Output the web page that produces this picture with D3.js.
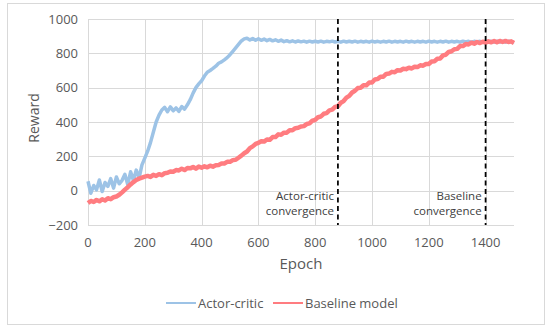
<!DOCTYPE html>
<html>
<head>
<meta charset="utf-8">
<script src="https://cdn.jsdelivr.net/npm/d3@7"></script>
<style>
  body { margin: 0; background: #fff; }
  text { font-family: "Open Sans", "Noto Sans", sans-serif; }
</style>
</head>
<body>
<div id="chart"></div>
<script>
// epochs every 10 steps, 0..1500
const epochs = d3.range(0, 1501, 10);

const actorCritic = [
  55, -15, 30, 5, 62, -5, 48, 25, 70, 15, 80, 40, 60, 95, 35, 110, 60, 120, 75, 150,
  190, 230, 280, 340, 400, 440, 470, 485, 460, 488, 465, 482, 462, 490, 475, 500, 530, 568, 600, 622,
  640, 668, 690, 700, 712, 725, 742, 750, 762, 775, 792, 812, 832, 852, 872, 884, 888, 878, 886, 876,
  885, 876, 883, 874, 881, 873, 879, 870, 877, 868, 874, 867, 873, 866, 872, 867, 871, 865, 871, 866,
  870, 866, 871, 865, 870, 867, 871, 866, 870, 865, 871, 866, 870, 866, 871, 865, 870, 866, 870, 865,
  871, 866, 870, 865, 870, 866, 871, 865, 870, 866, 870, 865, 871, 866, 870, 865, 870, 866, 870, 865,
  871, 866, 870, 865, 870, 866, 871, 865, 870, 866, 870, 865, 871, 866, 870, 865, 870, 866, 870, 865,
  871, 866, 870, 865, 870, 866, 871, 865, 870, 866, 868
];

const baseline = [
  -72, -60, -66, -54, -62, -50, -57, -44, -50, -38, -34, -24, -10, 6, 20, 36, 50, 62, 70, 76,
  82, 86, 80, 92, 86, 96, 90, 102, 104, 112, 110, 120, 118, 128, 120, 132, 130, 138, 128, 140,
  134, 142, 136, 145, 140, 148, 150, 158, 158, 168, 168, 178, 180, 192, 204, 218, 228, 248, 258, 272,
  278, 288, 286, 298, 296, 312, 312, 328, 326, 338, 338, 352, 352, 364, 366, 374, 376, 388, 392, 408,
  412, 428, 432, 448, 452, 468, 472, 488, 492, 512, 522, 542, 552, 572, 582, 598, 600, 614, 614, 630,
  630, 648, 650, 664, 664, 680, 682, 692, 690, 702, 700, 710, 708, 716, 712, 722, 720, 730, 728, 738,
  738, 752, 754, 768, 770, 788, 792, 808, 812, 824, 826, 842, 842, 854, 852, 862, 856, 866, 860, 868,
  862, 870, 864, 872, 864, 872, 866, 872, 866, 870, 860
];

const xTicks = [0, 200, 400, 600, 800, 1000, 1200, 1400];
const yTicks = [-200, 0, 200, 400, 600, 800, 1000];
const convergence = [
  { epoch: 880, lines: ["Actor-critic", "convergence"] },
  { epoch: 1400, lines: ["Baseline", "convergence"] }
];
const seriesNames = ["Actor-critic", "Baseline model"];
const colors = ["#9dc3e6", "#ff7c80"];

const width = 550,
      height = 330,
      margin = ({ top: 19, right: 36, bottom: 105, left: 88 });

let svg = d3.select("#chart")
    .append("svg")
    .attr("width", width)
    .attr("height", height);

// outer frame
svg.append("rect")
    .attr("x", 7.5).attr("y", 3.5)
    .attr("width", 537).attr("height", 321)
    .attr("fill", "none")
    .attr("stroke", "#d9d9d9");

let x = d3.scaleLinear()
    .domain([0, 1500])
    .range([margin.left, width - margin.right]);

let y = d3.scaleLinear()
    .domain([-200, 1000])
    .range([height - margin.bottom, margin.top]);

// gridlines
svg.append("g")
    .selectAll("line")
    .data(yTicks)
    .join("line")
    .attr("x1", x(0)).attr("x2", x(1500))
    .attr("y1", d => Math.round(y(d)) + 0.5)
    .attr("y2", d => Math.round(y(d)) + 0.5)
    .attr("stroke", "#d9d9d9");

svg.append("g")
    .selectAll("line")
    .data(xTicks)
    .join("line")
    .attr("x1", d => Math.round(x(d)) + 0.5)
    .attr("x2", d => Math.round(x(d)) + 0.5)
    .attr("y1", y(1000)).attr("y2", y(-200))
    .attr("stroke", "#d9d9d9");

// tick labels
svg.append("g")
    .selectAll("text")
    .data(yTicks)
    .join("text")
    .attr("x", x(0) - 10)
    .attr("y", d => y(d) + 4.5)
    .attr("text-anchor", "end")
    .style("font-size", "13px")
    .style("fill", "#595959")
    .text(d => d < 0 ? "\u2212" + Math.abs(d) : d);

svg.append("g")
    .selectAll("text")
    .data(xTicks)
    .join("text")
    .attr("x", d => x(d))
    .attr("y", y(-200) + 22)
    .attr("text-anchor", "middle")
    .style("font-size", "13px")
    .style("fill", "#595959")
    .text(d => d);

// series
const series = [actorCritic, baseline];
const widths = [3.5, 4.5];
let line = d3.line()
    .x((d, i) => x(epochs[i]))
    .y(d => y(d));

series.forEach((s, k) => {
    svg.append("path")
        .datum(s)
        .attr("fill", "none")
        .attr("stroke", colors[k])
        .attr("stroke-width", widths[k])
        .attr("stroke-linejoin", "round")
        .attr("d", line);
});

// convergence markers
convergence.forEach(c => {
    svg.append("line")
        .attr("x1", x(c.epoch)).attr("x2", x(c.epoch))
        .attr("y1", y(1000)).attr("y2", y(-200))
        .attr("stroke", "#000")
        .attr("stroke-width", 1.75)
        .attr("stroke-dasharray", "5,3.5");
    c.lines.forEach((t, i) => {
        svg.append("text")
            .attr("x", x(c.epoch) - 4)
            .attr("y", y(0) + 9 + i * 15)
            .attr("text-anchor", "end")
            .style("font-size", "11.5px")
            .style("fill", "#404040")
            .text(t);
    });
});

// axis titles
svg.append("text")
    .attr("x", (x(0) + x(1500)) / 2)
    .attr("y", 269)
    .attr("text-anchor", "middle")
    .style("font-size", "15px")
    .style("fill", "#595959")
    .text("Epoch");

svg.append("text")
    .attr("transform", `translate(39,${(y(1000) + y(-200)) / 2 - 4}) rotate(-90)`)
    .attr("text-anchor", "middle")
    .style("font-size", "14px")
    .style("fill", "#595959")
    .text("Reward");

// legend
const legendX = [166, 273];
seriesNames.forEach((n, k) => {
    svg.append("line")
        .attr("x1", legendX[k]).attr("x2", legendX[k] + 30)
        .attr("y1", 303).attr("y2", 303)
        .attr("stroke", colors[k])
        .attr("stroke-width", 2);
    svg.append("text")
        .attr("x", legendX[k] + 32)
        .attr("y", 307.5)
        .style("font-size", "13px")
        .style("fill", "#595959")
        .text(n);
});
</script>
</body>
</html>
